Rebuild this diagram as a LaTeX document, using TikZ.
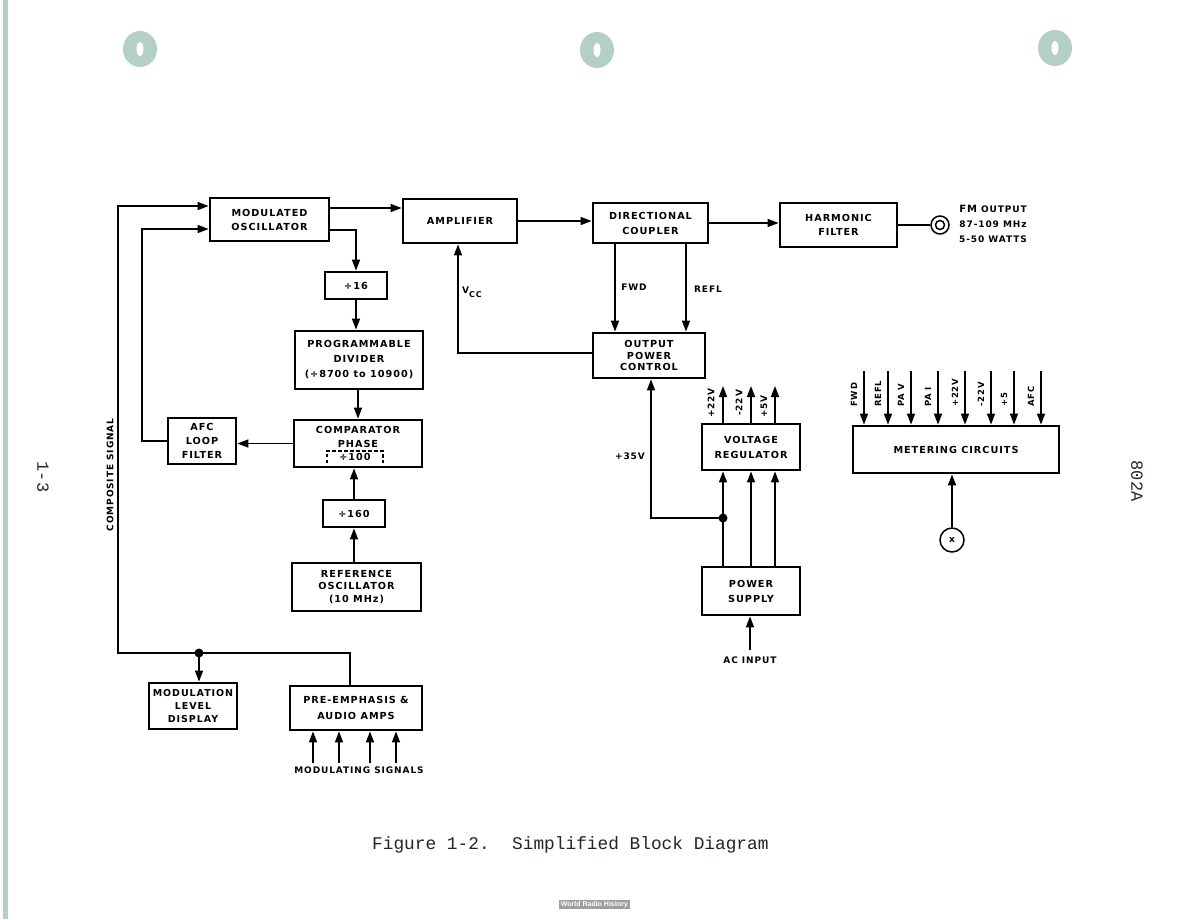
\documentclass[tikz,border=0pt]{standalone}
\usepackage{fontspec}
\usetikzlibrary{arrows.meta,calc}
\newfontfamily\lbl[LetterSpace=10]{DejaVu Sans}
\newfontfamily\mono{Liberation Mono}
\newfontfamily\wsans{Liberation Sans}
\definecolor{holec}{RGB}{180,208,198}
\definecolor{capc}{RGB}{30,40,30}
\tikzset{
  blk/.style={draw, line width=2.8pt, align=center, inner sep=0pt,
    font=\fontsize{9.7}{14}\selectfont\lbl\bfseries},
  lab/.style={inner sep=0pt, font=\fontsize{9}{11}\selectfont\lbl\bfseries},
  conn/.style={line width=1.5pt},
  arr/.style={conn, -{Triangle[length=11pt,width=8pt]}},
  jdot/.style={circle, fill=black, inner sep=0pt, minimum size=9pt},
}
\begin{document}
\begin{tikzpicture}[x=1pt,y=-1pt]
\useasboundingbox (0,0) rectangle (1189,919);
\fill[white] (0,0) rectangle (1189,919);
% page details
\fill[holec] (3,0) rectangle (8,919);
\foreach \hx/\hy in {140/49, 597/50, 1055/48}{
  \fill[holec] (\hx,\hy) ellipse [x radius=17pt, y radius=18pt];
  \fill[white] (\hx,\hy) ellipse [x radius=3.5pt, y radius=7pt];
}
% blocks
\node[blk, minimum width=119pt, minimum height=43pt] (mo) at (269.5,219.5) {MODULATED\\OSCILLATOR};
\node[blk, minimum width=114pt, minimum height=44pt] (amp) at (460,221) {AMPLIFIER};
\node[blk, minimum width=62pt, minimum height=27pt] (d16) at (356,285.5) {÷16};
\node[blk, minimum width=128pt, minimum height=58pt, font=\fontsize{9.7}{15}\selectfont\lbl\bfseries] (pd) at (359,360) {PROGRAMMABLE\\DIVIDER\\(÷8700 to 10900)};
\node[blk, minimum width=115pt, minimum height=40pt, font=\fontsize{9.7}{15}\selectfont\lbl\bfseries] (dc) at (650.5,223) {DIRECTIONAL\\COUPLER};
\node[blk, minimum width=117pt, minimum height=44pt] (hf) at (838.5,225) {HARMONIC\\FILTER};
\node[blk, minimum width=112pt, minimum height=45pt, font=\fontsize{9.7}{11.5}\selectfont\lbl\bfseries] (opc) at (649,355.5) {OUTPUT\\POWER\\CONTROL};
\node[blk, minimum width=128pt, minimum height=47pt] (cp) at (358,443.5) {COMPARATOR\\PHASE\\\phantom{÷100}};
\node[lab, minimum width=56pt, minimum height=12pt, font=\fontsize{9.7}{11}\selectfont\lbl\bfseries] (d100) at (355,457) {÷100};
\draw[line width=1.5pt, dash pattern=on 3.5pt off 2.5pt] (d100.south west) |- (d100.north east) -- (d100.south east);
\node[blk, minimum width=68pt, minimum height=46pt] (afc) at (202,441) {AFC\\LOOP\\FILTER};
\node[blk, minimum width=62pt, minimum height=27pt] (d160) at (354,513.5) {÷160};
\node[blk, minimum width=129pt, minimum height=48pt, font=\fontsize{9.7}{12.5}\selectfont\lbl\bfseries] (ro) at (356.5,587) {REFERENCE\\OSCILLATOR\\(10 MHz)};
\node[blk, minimum width=98pt, minimum height=46pt, font=\fontsize{9.7}{15}\selectfont\lbl\bfseries] (vr) at (751,447) {VOLTAGE\\REGULATOR};
\node[blk, minimum width=98pt, minimum height=48pt, font=\fontsize{9.7}{15}\selectfont\lbl\bfseries] (ps) at (751,591) {POWER\\SUPPLY};
\node[blk, minimum width=206pt, minimum height=47pt] (mc) at (956,449.5) {METERING CIRCUITS};
\node[blk, minimum width=88pt, minimum height=46pt, font=\fontsize{9.5}{13}\selectfont\lbl\bfseries] (mld) at (193,706) {MODULATION\\LEVEL\\DISPLAY};
\node[blk, minimum width=132pt, minimum height=44pt, font=\fontsize{9.7}{16}\selectfont\lbl\bfseries] (pe) at (356,708) {PRE-EMPHASIS \&\\AUDIO AMPS};
% FM output connector
\node[draw, circle, line width=1.5pt, minimum size=18pt, inner sep=0pt] (fmc) at (940,225) {};
\node[draw, circle, line width=1.5pt, minimum size=9pt, inner sep=0pt] (fmi) at (940,225) {};
\node[lab, align=center, font=\fontsize{9}{15}\selectfont\lbl\bfseries] (fmo) at (993,224) {{\fontsize{10}{15}\selectfont FM} OUTPUT\\87-109 MHz\\5-50 WATTS};
\draw[conn] (hf.east) -- (fmc.west);
% helper coordinates
\coordinate (y208) at (0,208);
\coordinate (y230) at (0,230);
\coordinate (cbl) at (118,653);
\coordinate (ctl) at (118,206);
\coordinate (cafc) at (142,229);
\coordinate (cv) at (458,353);
\coordinate (xf) at (615,0);
\coordinate (xr) at (686,0);
\coordinate (c35) at (651,518);
\node[jdot] (j35) at (723,518) {};
\node[jdot] (jb) at (199,653) {};
% composite signal loop
\draw[arr] ([xshift=-6pt]pe.north) |- (cbl) -- (ctl) -- (mo.west |- ctl);
\draw[arr] (jb.center) -- (jb |- mld.north);
\node[lab, rotate=90] (cs) at (110,475) {COMPOSITE SIGNAL};
% AFC loop
\draw[arr] (afc.west) -| (cafc) -- (mo.west |- cafc);
% main chain
\draw[arr] (mo.east |- y208) -- (amp.west |- y208);
\draw[arr] (mo.east |- y230) -| (d16.north);
\draw[arr] (d16.south) -- (d16.south |- pd.north);
\draw[arr] (cp.north |- pd.south) -- (cp.north);
\draw[arr] (cp.west) -- (afc.east |- cp.west);
\draw[arr] (d160.north) -- (d160.north |- cp.south);
\draw[arr] (d160.south |- ro.north) -- (d160.south);
\draw[arr] (amp.east) -- (dc.west |- amp.east);
\draw[arr] (dc.east) -- (hf.west |- dc.east);
\draw[arr] (dc.south -| xf) -- (opc.north -| xf);
\draw[arr] (dc.south -| xr) -- (opc.north -| xr);
\node[lab] (fwd) at (634,287) {FWD};
\node[lab] (refl) at (708,289) {REFL};
\draw[arr] (opc.west |- cv) -- (cv) -- (cv |- amp.south);
\node[lab, anchor=west] (vcc) at (462,292) {V\raisebox{-4pt}{\fontsize{8}{8}\selectfont CC}};
% power
\draw[arr] (j35.center) -- (c35) -- (c35 |- opc.south);
\node[lab] (v35) at (630,456) {+35V};
\foreach \xx/\nm in {723/a, 751/b, 775/c}{
  \coordinate (px\nm) at (\xx,0);
  \draw[arr] (ps.north -| px\nm) -- (vr.south -| px\nm);
  \coordinate (pt\nm) at (\xx,386);
  \draw[arr] (vr.north -| px\nm) -- (pt\nm);
}
\node[lab, rotate=90, anchor=west] (l22p) at (711,418) {+22V};
\node[lab, rotate=90, anchor=west] (l22m) at (739,416) {-22V};
\node[lab, rotate=90, anchor=west] (l5p) at (764,418) {+5V};
\node[lab] (acin) at (750,660) {AC INPUT};
\draw[arr] ([yshift=6pt]acin.north) -- (acin.north |- ps.south);
% metering
\foreach \xx/\tt/\nm in {864/FWD/a, 888/REFL/b, 911/PA V/c, 938/PA I/d, 965/+22V/e, 991/-22V/f, 1014/+5/g, 1041/AFC/h}{
  \coordinate (mt\nm) at (\xx,371);
  \draw[arr] (mt\nm) -- (mt\nm |- mc.north);
  \node[lab, rotate=90, anchor=west, font=\fontsize{8.5}{10}\selectfont\lbl\bfseries] (ml\nm) at (\xx-10,407) {\tt};
}
\node[draw, circle, line width=1.5pt, minimum size=24pt, inner sep=0pt, font=\fontsize{9}{10}\selectfont\lbl\bfseries] (xc) at (952,540) {x};
\draw[arr] (xc.north) -- (xc.north |- mc.south);
% modulating signals
\node[lab] (msig) at (359,770) {MODULATING SIGNALS};
\foreach \xx/\nm in {313/a, 339/b, 370/c, 396/d}{
  \coordinate (ms\nm) at (\xx,763);
  \draw[arr] (ms\nm) -- (ms\nm |- pe.south);
}
% page texts
\node[font=\fontsize{17}{17}\selectfont\mono, rotate=-90, inner sep=0pt, text=capc] (pg) at (43,477) {1-3};
\node[font=\fontsize{17}{17}\selectfont\mono, rotate=-90, inner sep=0pt, text=capc] (dn) at (1137,481) {802A};
\node[font=\fontsize{17.8}{18}\selectfont\mono, anchor=base west, inner sep=0pt, text=capc] (cap1) at (372,849) {Figure 1-2.};
\node[font=\fontsize{17.8}{18}\selectfont\mono, anchor=base west, inner sep=0pt, text=capc] (cap2) at (512,849) {Simplified Block Diagram};
\node[fill=gray!75, text=white, inner sep=1.5pt, font=\fontsize{7}{8}\selectfont\wsans\bfseries] (wrh) at (594.5,904.5) {World Radio History};
\end{tikzpicture}
\end{document}
